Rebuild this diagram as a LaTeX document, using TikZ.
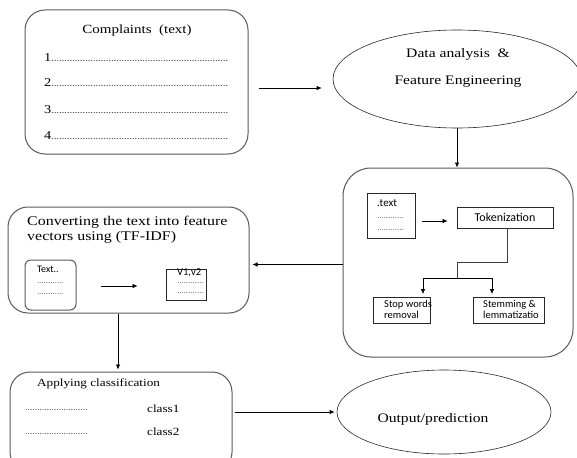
\documentclass[tikz,border=0pt]{standalone}
\usepackage{fontspec}
\setmainfont{Liberation Serif}[FakeStretch=1.2]
\newfontfamily\calibfont{Carlito}
\usetikzlibrary{shapes.geometric,arrows.meta}
\newcommand{\dotrun}[2]{{\color{black!70}\foreach \d in {1,...,#1}{\hbox to #2{\hss.\hss}}}}

\begin{document}
\begin{tikzpicture}[x=1pt,y=-1pt,
  bigbox/.style={rectangle, rounded corners=20pt, draw=black!65, line width=1pt},
  smallbox/.style={rectangle, draw=black!85, line width=0.8pt},
  oval/.style={ellipse, draw=black!85, line width=0.6pt},
  flowarrow/.style={-{Latex[length=5pt,width=4.5pt]}, line width=0.7pt},
  txt/.style={font=\fontsize{#1}{#1}\selectfont, inner sep=0pt},
  sanstxt/.style={font=\calibfont\fontsize{#1}{#1}\selectfont, inner sep=0pt}]
\useasboundingbox (0,0) rectangle (577,457);

% complaints
\node[bigbox, minimum width=223pt, minimum height=144pt] (complaints) at (136.5,82) {};
\node[txt=12.5] (ctitle) at (137,30) {Complaints\ \ (text)};
\foreach \n/\y in {1/58,2/83,3/110,4/136}
  \node[txt=12, anchor=west] (item\n) at (44,\y) {\n{\fontsize{10}{10}\selectfont\dotrun{68}{2.6pt}}};

% data analysis
\node[oval, minimum width=248pt, minimum height=98pt] (dataeng) at (457,79) {};
\node[txt=13, font=\fontsize{13}{27}\selectfont, align=center] (datatxt) at (458,68) {Data analysis \ \&\\Feature Engineering};
\draw[flowarrow, shorten <=10pt, shorten >=11pt] ([yshift=-6pt]complaints.east) -- ([yshift=-6pt]complaints.east -| dataeng.west);

% tokenization block
\node[bigbox, rounded corners=28pt, minimum width=230pt, minimum height=189pt] (tokbox) at (458,262.5) {};
\draw[flowarrow] (dataeng.south) -- (dataeng.south |- tokbox.north);
\node[smallbox, minimum width=48pt, minimum height=45pt] (textsrc) at (391,215.5) {};
\node[sanstxt=11, anchor=west] (srclabel) at (377,203) {.text};
\node[sanstxt=8, anchor=west] (srcdots1) at (377,218) {\dotrun{12}{2.2pt}};
\node[sanstxt=8, anchor=west] (srcdots2) at (377,230) {\dotrun{12}{2.2pt}};
\node[smallbox, minimum width=96pt, minimum height=21pt, sanstxt=12] (tokenize) at (505,217.5) {Tokenization};
\draw[flowarrow, shorten <=7pt, shorten >=9pt] ([yshift=-5.5pt]textsrc.east) -- ([yshift=-5.5pt]textsrc.east -| tokenize.west);
\node[smallbox, minimum width=57pt, minimum height=26pt] (stopbox) at (401.5,310.5) {};
\node[sanstxt=10.5, font=\calibfont\fontsize{10.5}{11}\selectfont, anchor=north west, align=left] (stoplabel) at (384,300.5) {Stop words\\removal};
\node[smallbox, minimum width=71pt, minimum height=26pt] (stembox) at (508.5,310.5) {};
\node[sanstxt=10.5, font=\calibfont\fontsize{10.5}{11}\selectfont, anchor=north west, align=left] (stemlabel) at (483,300.5) {Stemming \&\\lemmatizatio};
\coordinate (branch) at (457,262);
\coordinate (split) at (457,278);
\draw[line width=0.7pt, black!75] ([xshift=2pt]tokenize.south) |- (branch) -- (split);
\draw[flowarrow, shorten >=3pt] (split) -| ([xshift=21.5pt]stopbox.north);
\draw[flowarrow, shorten >=3pt] (split) -| ([xshift=-16.5pt]stembox.north);

% converting block
\node[bigbox, minimum width=241pt, minimum height=106pt] (convbox) at (128.5,260) {};
\node[txt=13.3, font=\fontsize{13.3}{15}\selectfont, anchor=north west, align=left] (convtxt) at (27,216) {Converting the text into feature\\vectors using (TF-IDF)};
\draw[flowarrow, shorten >=3pt] ([yshift=-2pt]tokbox.west) -- ([yshift=-2pt]tokbox.west -| convbox.east);
\node[bigbox, rounded corners=6pt, minimum width=51pt, minimum height=50pt] (textcard) at (50.5,285) {};
\node[sanstxt=10, anchor=west] (cardlabel) at (37,269) {Text..};
\node[sanstxt=8, anchor=west] (carddots1) at (37,283) {\dotrun{12}{2.2pt}};
\node[sanstxt=8, anchor=west] (carddots2) at (37,294) {\dotrun{12}{2.2pt}};
\node[smallbox, minimum width=40pt, minimum height=31pt] (vecbox) at (186,284.5) {};
\node[sanstxt=10.5, anchor=west] (veclabel) at (177,273) {V1,v2};
\node[sanstxt=8, anchor=west] (vecdots1) at (177,283) {\dotrun{12}{2.2pt}};
\node[sanstxt=8, anchor=west] (vecdots2) at (177,293) {\dotrun{12}{2.2pt}};
\draw[flowarrow, shorten <=24pt, shorten >=28pt] ([yshift=-1pt]textcard.east) -- ([yshift=-1pt]textcard.east -| vecbox.west);

% classification
\node[bigbox, minimum width=222pt, minimum height=100pt] (classbox) at (121,422) {};
\draw[flowarrow, shorten >=2pt] ([xshift=-10.5pt]convbox.south) -- ([xshift=-10.5pt]convbox.south |- classbox.north);
\node[txt=11, anchor=west] (classtitle) at (37,384) {Applying classification};
\node[txt=9, anchor=west] (rowdots1) at (25,410) {\dotrun{26}{2.4pt}};
\node[txt=11, anchor=west] (class1) at (147,409) {class1};
\node[txt=9, anchor=west] (rowdots2) at (25,434) {\dotrun{26}{2.4pt}};
\node[txt=11, anchor=west] (class2) at (147,432) {class2};

% output
\node[oval, minimum width=214pt, minimum height=84pt] (outpred) at (444,412) {};
\node[txt=13] (outlabel) at (433,419) {Output/prediction};
\draw[flowarrow, shorten <=2pt, shorten >=2pt] ([yshift=10pt]classbox.east) -- ([yshift=10pt]classbox.east -| outpred.west);
\end{tikzpicture}
\end{document}
